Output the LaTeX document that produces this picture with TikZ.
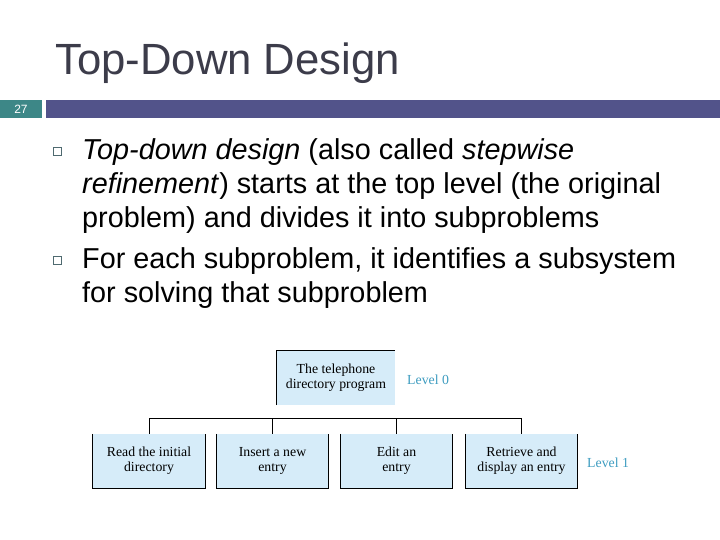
\documentclass[tikz,border=0pt]{standalone}
\usepackage{fontspec}
\setmainfont{Liberation Sans}
\newfontfamily\diafont{Liberation Serif}
\definecolor{titlegray}{HTML}{3C3C4A}
\definecolor{barteal}{HTML}{3D8787}
\definecolor{barpurple}{HTML}{52538A}
\definecolor{bulletgray}{HTML}{4F6A70}
\definecolor{boxblue}{HTML}{D6ECF9}
\definecolor{levelblue}{HTML}{3E9CC0}
\tikzset{
  lvbox/.style={fill=boxblue, minimum width=111pt, minimum height=54pt, inner sep=0pt, align=center, font=\diafont\fontsize{13.8}{15}\selectfont},
  edge/.style={draw=black, line width=1pt},
  bulletsq/.style={draw=bulletgray, line width=1.1pt, minimum width=8.5pt, minimum height=8.5pt, inner sep=0pt},
  bodytext/.style={anchor=base west, inner sep=0pt, align=left, font=\fontsize{28.8}{34}\selectfont},
  leveltext/.style={anchor=base west, inner sep=0pt, text=levelblue, font=\diafont\fontsize{13.8}{15}\selectfont}
}
\begin{document}
\begin{tikzpicture}[x=1pt,y=-1pt]
\useasboundingbox (0,0) rectangle (720,540);
% title
\node[anchor=base west, inner sep=0pt, text=titlegray, font=\fontsize{43.7}{50}\selectfont] (title) at (55,75) {Top-Down Design};
% bar
\fill[barteal] (0,100) rectangle (42,118);
\fill[barpurple] (46,100) rectangle (720,118);
\node[text=white, inner sep=0pt, font=\fontsize{12}{14}\selectfont] (pnum) at (21,109) {27};
% bullets
\node[bulletsq] (b1) at (57.5,151.5) {};
\node[bulletsq] (b2) at (57.5,260.5) {};
\node[bodytext] (t1) at (82,227) {\textit{Top-down design} (also called \textit{stepwise}\\\textit{refinement}) starts at the top level (the original\\problem) and divides it into subproblems};
\node[bodytext] (t2) at (82,302) {For each subproblem, it identifies a subsystem\\for solving that subproblem};
% diagram
\node[lvbox, minimum width=118pt] (top) at (336,378) {The telephone\\directory program};
\draw[edge] (top.south west) -- (top.north west) -- (top.north east);
\node[leveltext] (lv0) at (407,384) {Level 0};
\node[lvbox, minimum width=112pt] (read) at (149,461) {Read the initial\\directory};
\node[lvbox] (insert) at (272.5,461) {Insert a new\\entry};
\node[lvbox] (edit) at (396.5,461) {Edit an\\entry};
\node[lvbox] (retr) at (521.5,461) {Retrieve and\\display an entry};
\node[leveltext] (lv1) at (587,467) {Level 1};
\foreach \b in {read,insert,edit,retr}{
  \draw[edge] (\b.north west) -- (\b.south west) -- (\b.south east) -- (\b.north east);
}
\coordinate (hy) at (0,418.5);
\draw[edge] (read.north) -- (read.north |- hy) -- (retr.north |- hy) -- (retr.north);
\draw[edge] (insert.north) -- (insert.north |- hy);
\draw[edge] (edit.north) -- (edit.north |- hy);
\end{tikzpicture}
\end{document}
